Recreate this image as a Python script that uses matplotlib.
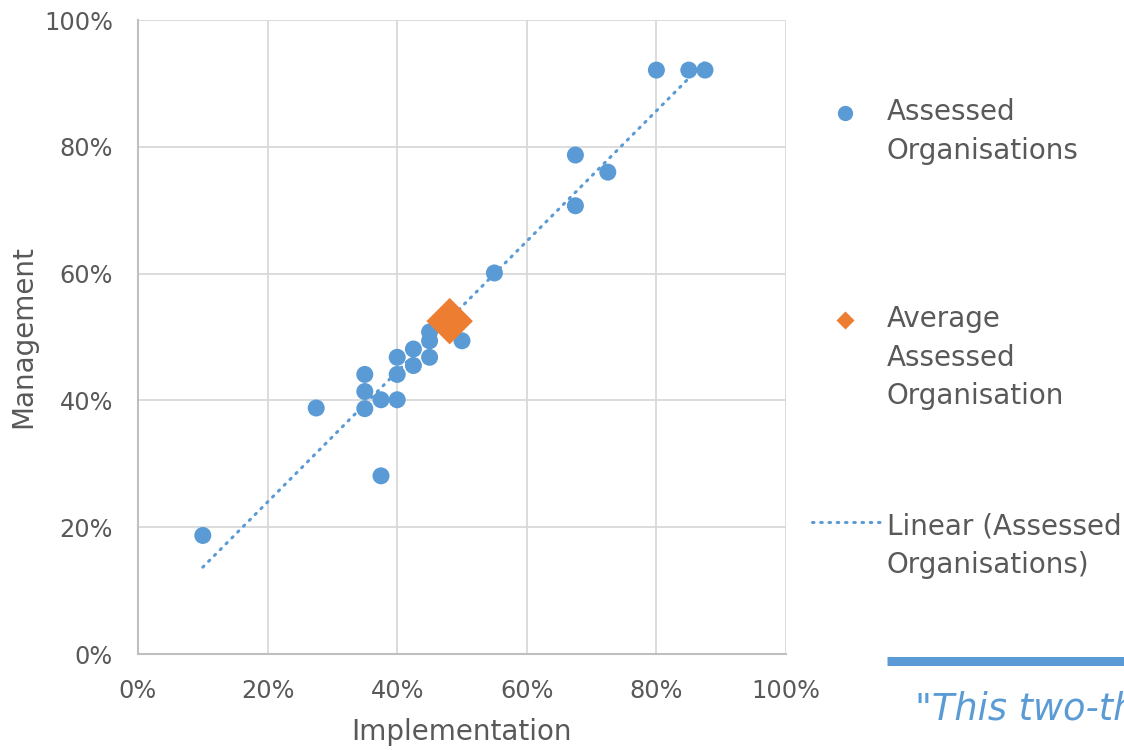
import numpy as np
import matplotlib
matplotlib.use('Agg')
import matplotlib.pyplot as plt
from matplotlib.lines import Line2D
from matplotlib.ticker import PercentFormatter

# assessed organisations: implementation vs management (fractions)
impl = [0.10, 0.275, 0.35, 0.35, 0.35, 0.375, 0.375, 0.40, 0.40, 0.40,
        0.425, 0.425, 0.45, 0.45, 0.45, 0.50, 0.55, 0.675, 0.675, 0.725,
        0.80, 0.85, 0.875]
mgmt = [0.187, 0.388, 0.441, 0.414, 0.387, 0.401, 0.281, 0.468, 0.441, 0.401,
        0.481, 0.455, 0.508, 0.494, 0.468, 0.494, 0.601, 0.787, 0.707, 0.760,
        0.921, 0.921, 0.921]
avg_impl = [0.481]
avg_mgmt = [0.525]

ticks = [0, 0.2, 0.4, 0.6, 0.8, 1.0]
labels = ['Assessed\nOrganisations', 'Average\nAssessed\nOrganisation',
          'Linear (Assessed\nOrganisations)']

BLUE = '#5B9BD5'
ORANGE = '#ED7D31'
TXT = '#595959'
GRID = '#d9d9d9'

plt.rcParams['font.family'] = ['DejaVu Sans']

fig = plt.figure(figsize=(11.24, 7.5), dpi=100)
ax = fig.add_axes([138 / 1124, 96 / 750, 648 / 1124, 634 / 750])

# linear trendline over the data range
k, b = np.polyfit(impl, mgmt, 1)
xs = np.array([min(impl), max(impl)])
ax.plot(xs, k * xs + b, color=BLUE, lw=2.2, linestyle=(0, (0.5, 2.2)),
        dash_capstyle='round', zorder=2)

ax.scatter(impl, mgmt, s=150, color=BLUE, edgecolors='none', zorder=3)
ax.scatter(avg_impl, avg_mgmt, s=560, marker='D', color=ORANGE,
           edgecolors='none', zorder=4)

ax.set_xlim(0, 1)
ax.set_ylim(0, 1)
ax.set_xticks(ticks)
ax.set_yticks(ticks)
ax.xaxis.set_major_formatter(PercentFormatter(1.0, decimals=0))
ax.yaxis.set_major_formatter(PercentFormatter(1.0, decimals=0))
ax.grid(True, color=GRID, lw=1.3, zorder=0)
ax.set_axisbelow(True)
for side in ['top', 'right']:
    ax.spines[side].set_visible(False)
for side in ['left', 'bottom']:
    ax.spines[side].set_color('#bfbfbf')
    ax.spines[side].set_linewidth(1.5)
ax.tick_params(length=0, labelsize=17.3, colors=TXT, pad=18)
ax.set_xlabel('Implementation', fontsize=20, color=TXT, labelpad=11)
ax.set_ylabel('Management', fontsize=20, color=TXT, labelpad=4.5)

# legend, drawn by hand to keep Excel's spacing
fig.add_artist(Line2D([845 / 1124], [1 - 113 / 750], marker='o', ms=11,
                      color=BLUE, mec='none', transform=fig.transFigure))
fig.add_artist(Line2D([845 / 1124], [1 - 320 / 750], marker='D', ms=9,
                      color=ORANGE, mec='none', transform=fig.transFigure))
fig.add_artist(Line2D([812 / 1124, 880 / 1124], [1 - 522 / 750] * 2, lw=2.2,
                      color=BLUE, linestyle=(0, (0.5, 2.2)),
                      dash_capstyle='round', transform=fig.transFigure))
for lab, ytop in zip(labels, [98, 305, 512]):
    fig.text(887 / 1124, 1 - ytop / 750, lab, fontsize=20, color=TXT,
             va='top', ha='left', linespacing=1.48)

# fragment of the page next to the chart
fig.add_artist(Line2D([887 / 1124, 1.0], [1 - 661 / 750] * 2, lw=6.5,
                      color=BLUE, solid_capstyle='butt',
                      transform=fig.transFigure))
fig.text(915 / 1124, 1 - 720 / 750, '"This two-th', fontsize=26.5,
         color=BLUE, style='italic', va='baseline', ha='left')

fig.savefig('out.png', dpi=100)
